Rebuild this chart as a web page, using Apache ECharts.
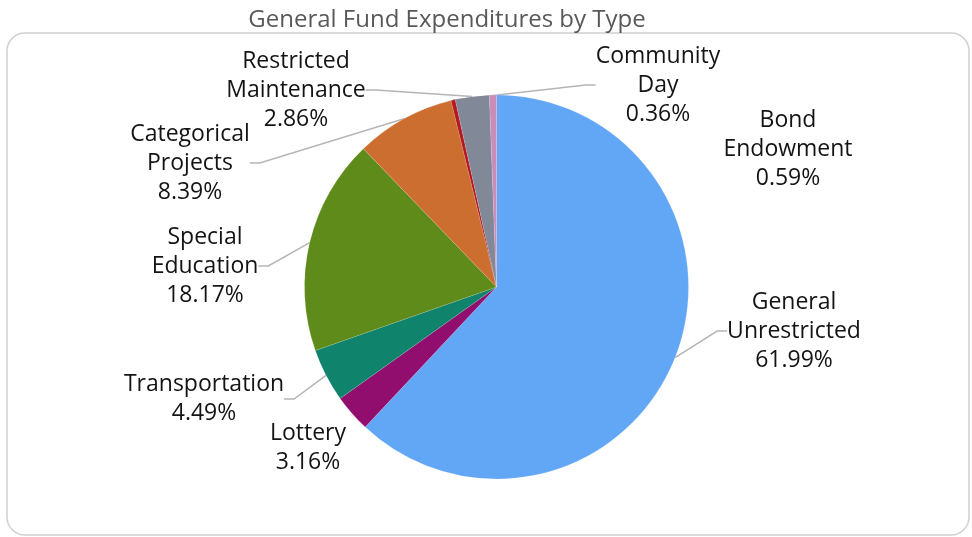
<!DOCTYPE html>
<html>
<head>
<meta charset="utf-8">
<script src="https://cdn.jsdelivr.net/npm/echarts@6/dist/echarts.min.js"></script>
<style>
  html, body { margin: 0; padding: 0; background: #fff; }
  #chart { width: 972px; height: 537px; }
</style>
</head>
<body>
<div id="chart"></div>
<script>
// Expenditure categories, in drawing order (clockwise from 12 o'clock)
const categories = [
  'General\nUnrestricted',
  'Lottery',
  'Transportation',
  'Special\nEducation',
  'Categorical\nProjects',
  'Community\nDay',
  'Restricted\nMaintenance',
  'Bond\nEndowment'
];
// Share of total general fund expenditures, percent
const shares = [61.99, 3.16, 4.49, 18.17, 8.39, 0.36, 2.86, 0.59];
const sliceColors = ['#62a6f6', '#910d6e', '#0f836c', '#5f8b1a', '#cd6e31', '#b3191f', '#818898', '#c98db9'];

// Label anchor points (label centres) around the pie
const labelSpots = [
  [794, 331], [308, 448], [204, 399], [205, 266],
  [190, 163], [658, 85], [296, 90], [788, 149]
];
const showLeader = [true, false, true, true, true, true, true, false];

const chart = echarts.init(document.getElementById('chart'));

const data = categories.map((name, i) => ({
  name: name,
  value: shares[i],
  itemStyle: { color: sliceColors[i] },
  labelLine: { show: showLeader[i] }
}));

chart.setOption({
  animation: false,
  title: {
    text: 'General Fund Expenditures by Type',
    left: 442,
    top: 3,
    textAlign: 'center',
    textStyle: {
      fontFamily: 'Open Sans',
      fontWeight: 'normal',
      fontSize: 24,
      color: '#595959'
    }
  },
  graphic: [{
    type: 'rect',
    shape: { x: 7, y: 33, width: 962, height: 502, r: 18 },
    style: { fill: 'none', stroke: '#d0d0d0', lineWidth: 1.5 },
    z: -1
  }],
  series: [{
    type: 'pie',
    center: [496.5, 287],
    radius: [0, 192],
    startAngle: 90,
    clockwise: true,
    data: data,
    itemStyle: { borderColor: 'rgba(255,255,255,0.25)', borderWidth: 0.5 },
    label: {
      show: true,
      formatter: p => p.name + '\n' + p.value.toFixed(2) + '%',
      fontFamily: 'Open Sans',
      fontSize: 23,
      lineHeight: 29,
      color: '#141414',
      align: 'center'
    },
    labelLine: {
      show: true,
      lineStyle: { color: '#b5b5b5', width: 1.5 },
      length: 10,
      length2: 10
    },
    labelLayout: function (params) {
      const spot = labelSpots[params.dataIndex];
      return {
        x: spot[0],
        y: spot[1],
        align: 'center',
        verticalAlign: 'middle'
      };
    }
  }]
});
</script>
</body>
</html>
